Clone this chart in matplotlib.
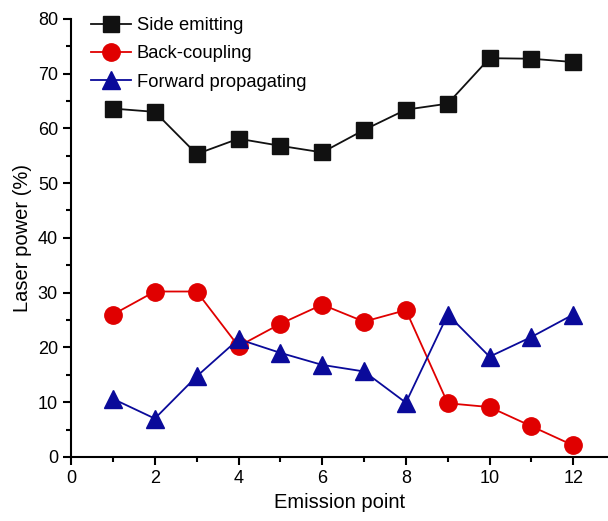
import matplotlib
matplotlib.use("Agg")
import matplotlib.pyplot as plt
from matplotlib.ticker import MultipleLocator

plt.rcParams['font.family'] = ['Liberation Sans', 'DejaVu Sans']

points = [1, 2, 3, 4, 5, 6, 7, 8, 9, 10, 11, 12]
side_emitting = [63.6, 63.0, 55.3, 58.1, 56.8, 55.6, 59.7, 63.4, 64.5, 72.8, 72.7, 72.1]
back_coupling = [26.0, 30.2, 30.2, 20.2, 24.3, 27.8, 24.7, 26.8, 9.8, 9.1, 5.6, 2.1]
forward_prop = [10.6, 7.0, 14.7, 21.5, 19.0, 16.8, 15.6, 9.9, 26.0, 18.3, 21.9, 26.0]

fig = plt.figure(figsize=(6.08, 5.21), dpi=100)
ax = fig.add_axes([0.117, 0.123, 0.883, 0.841])

ax.plot(points, side_emitting, color='#111111', marker='s', markersize=11, lw=1.3,
        label='Side emitting')
ax.plot(points, back_coupling, color='#e00000', marker='o', markersize=12.5, lw=1.3,
        label='Back-coupling')
ax.plot(points, forward_prop, color='#0a0a9a', marker='^', markersize=13, lw=1.3,
        label='Forward propagating')

ax.set_xlim(0, 12.83)
ax.set_ylim(0, 80)
ax.xaxis.set_major_locator(MultipleLocator(2))
ax.xaxis.set_minor_locator(MultipleLocator(1))
ax.yaxis.set_major_locator(MultipleLocator(10))
ax.yaxis.set_minor_locator(MultipleLocator(5))
ax.spines['top'].set_visible(False)
ax.spines['right'].set_visible(False)
for s in ('left', 'bottom'):
    ax.spines[s].set_linewidth(1.5)
ax.tick_params(which='major', direction='out', length=6, width=1.5, labelsize=13)
ax.tick_params(which='minor', direction='out', length=3.5, width=1.5)

ax.set_xlabel('Emission point', fontsize=14.5)
ax.set_ylabel('Laser power (%)', fontsize=14.5)

ax.legend(loc='upper left', frameon=False, fontsize=13.2, handlelength=2.2,
          handletextpad=0.3, labelspacing=0.62, borderaxespad=0.1,
          bbox_to_anchor=(0.02, 1.025))

fig.savefig('out.png', dpi=100)
